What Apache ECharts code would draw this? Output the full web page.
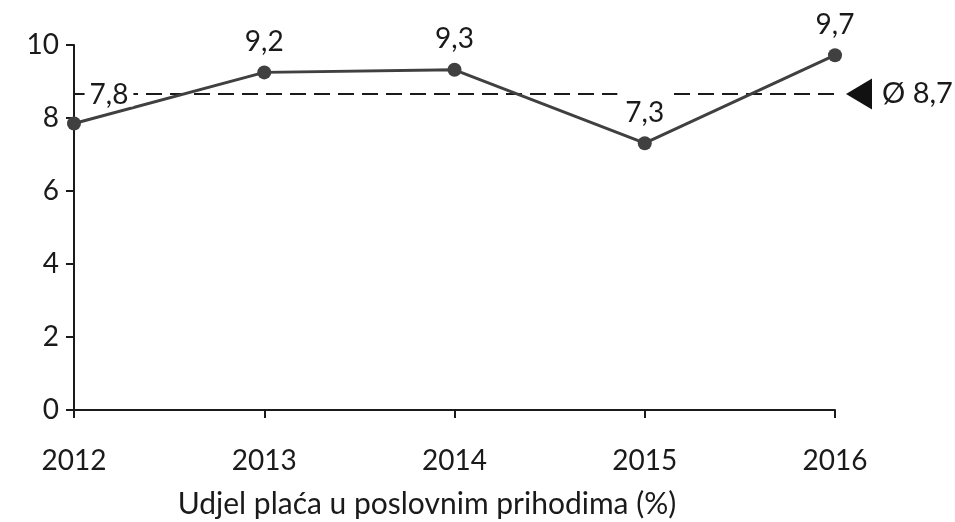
<!DOCTYPE html>
<html>
<head>
<meta charset="utf-8">
<script src="https://cdn.jsdelivr.net/npm/echarts@6/dist/echarts.min.js"></script>
<style>html,body{margin:0;padding:0;background:#fff}#c{width:955px;height:522px}</style>
</head>
<body>
<div id="c"></div>
<script>
var categories = ['2012', '2013', '2014', '2015', '2016'];
var values = [7.85, 9.25, 9.32, 7.31, 9.72];
var valueLabels = ['7,8', '9,2', '9,3', '7,3', '9,7'];
var avgValue = 8.66;
var avgLabel = 'Ø 8,7';
var axisTitle = 'Udjel plaća u poslovnim prihodima (%)';

var FONT = 'Lato';
var TXT = '#1a1a1a';
var chart = echarts.init(document.getElementById('c'));

var data = values.map(function (v, i) {
  var d = { value: v, label: { formatter: valueLabels[i] } };
  if (i === 0) {
    d.label.offset = [35, -2];
    d.label.lineHeight = 24;
    d.label.padding = [4, 5, 0, 5];
  }
  return d;
});

chart.setOption({
  animation: false,
  grid: { left: 74, right: 120, top: 45, bottom: 112, containLabel: false },
  xAxis: {
    type: 'category',
    data: categories,
    boundaryGap: false,
    axisLine: { lineStyle: { color: TXT, width: 2 } },
    axisTick: { show: true, length: 8, alignWithLabel: true, lineStyle: { color: TXT, width: 2 } },
    axisLabel: { color: TXT, fontFamily: FONT, fontSize: 28, margin: 37 },
    splitLine: { show: false }
  },
  yAxis: {
    type: 'value',
    min: 0, max: 10, interval: 2,
    axisLine: { show: true, lineStyle: { color: TXT, width: 2 } },
    axisTick: { show: true, length: 8, lineStyle: { color: TXT, width: 2 } },
    axisLabel: { color: TXT, fontFamily: FONT, fontSize: 28, margin: 15 },
    splitLine: { show: false }
  },
  graphic: [{
    type: 'text',
    style: {
      text: axisTitle, x: 427, y: 504, textAlign: 'center', textVerticalAlign: 'middle',
      font: '30px ' + FONT, fill: TXT
    }
  }],
  series: [{
    type: 'line',
    data: data,
    symbol: 'circle',
    symbolSize: 14,
    lineStyle: { color: '#404040', width: 3 },
    itemStyle: { color: '#404040' },
    z: 3,
    label: {
      show: true, position: 'top', distance: 8,
      color: TXT, fontFamily: FONT, fontSize: 28, lineHeight: 27,
      backgroundColor: '#fff', padding: [9, 8, 2, 8]
    },
    markLine: {
      silent: true,
      symbol: ['none', 'none'],
      z: 1,
      lineStyle: { color: TXT, type: [16, 8], width: 2 },
      label: {
        show: true, position: 'end', distance: 47, formatter: avgLabel,
        color: TXT, fontFamily: FONT, fontSize: 29
      },
      data: [{ yAxis: avgValue }]
    },
    markPoint: {
      silent: true,
      symbol: 'triangle',
      symbolRotate: 90,
      symbolSize: [31, 26],
      symbolOffset: [24, 0],
      itemStyle: { color: '#111' },
      label: { show: false },
      data: [{ coord: ['2016', avgValue] }]
    }
  }]
});
</script>
</body>
</html>
